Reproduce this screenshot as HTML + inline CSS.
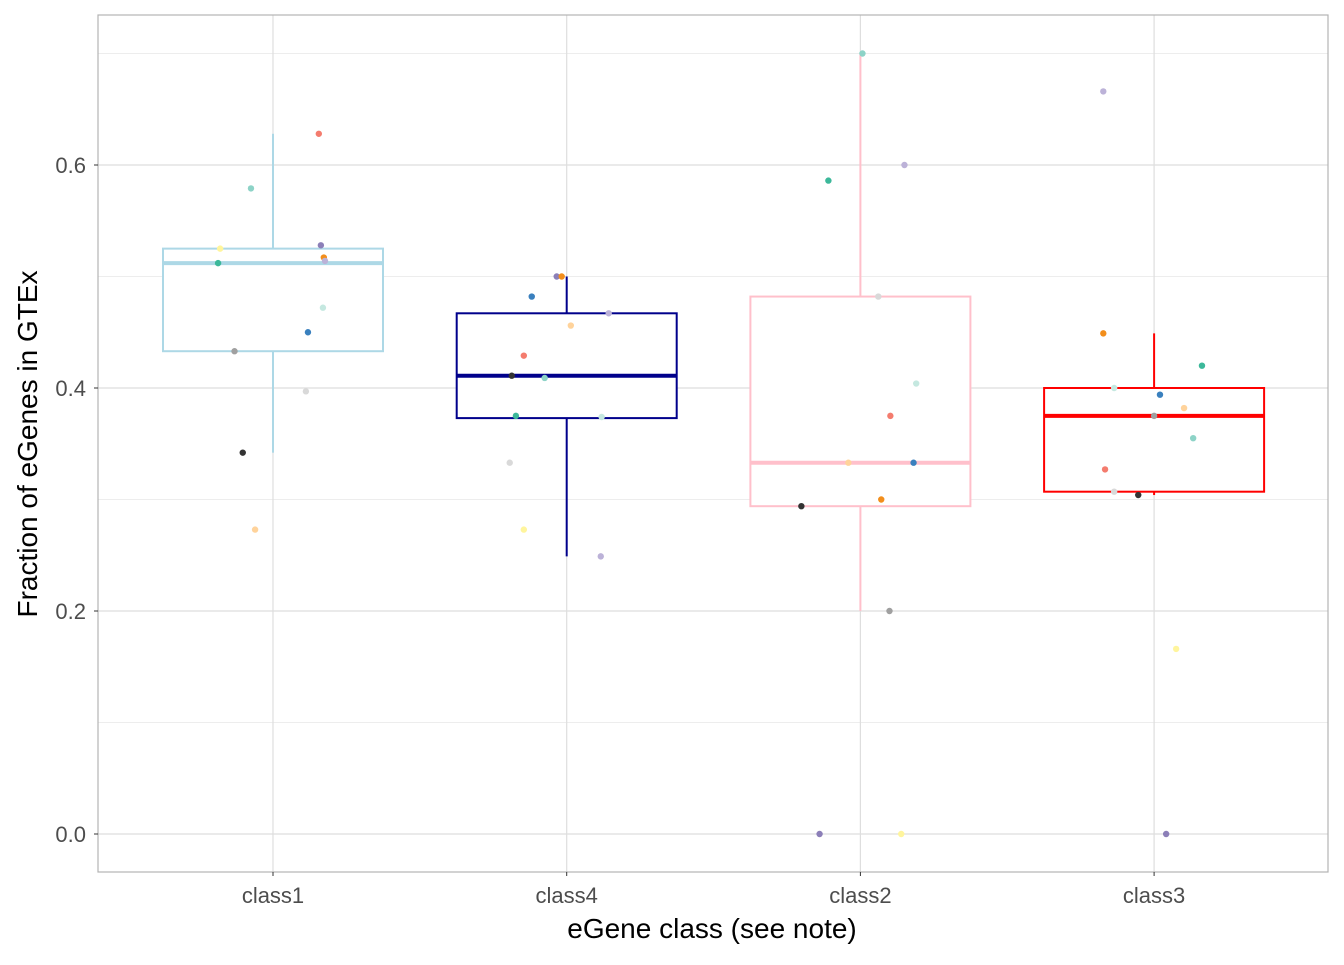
<!DOCTYPE html>
<html><head><meta charset="utf-8"><style>
body{margin:0;background:#fff;font-family:"Liberation Sans",sans-serif}
</style></head><body>
<svg id="chart" width="1344" height="960" xmlns="http://www.w3.org/2000/svg" font-family="Liberation Sans, sans-serif"></svg>
<script>
const categories=["class1","class4","class2","class3"];
const boxColors=["#ADD8E6","#00008B","#FFC0CB","#FF0000"];
const q1=[0.433,0.373,0.294,0.307];
const medians=[0.512,0.411,0.333,0.375];
const q3=[0.525,0.467,0.482,0.400];
const whiskLow=[0.342,0.249,0.200,0.304];
const whiskHigh=[0.628,0.500,0.700,0.449];
const yTicks=[0,0.2,0.4,0.6];
const yTickLabels=["0.0","0.2","0.4","0.6"];
const yMinor=[0.1,0.3,0.5,0.7];
const ptCat=[0,0,0,0,0,0,0,0,0,0,0,0,0, 1,1,1,1,1,1,1,1,1,1,1,1,1, 2,2,2,2,2,2,2,2,2,2,2,2,2, 3,3,3,3,3,3,3,3,3,3,3,3,3];
const ptJit=[0.156,-0.075,-0.18,0.163,-0.187,0.173,0.177,0.17,0.119,-0.131,0.112,-0.103,-0.061,
 -0.034,-0.017,-0.119,0.014,0.143,-0.146,-0.187,-0.075,-0.173,0.119,-0.194,-0.146,0.116,
 0.007,0.15,-0.109,0.061,0.19,0.102,-0.041,0.181,-0.201,0.071,0.099,-0.139,0.139,
 -0.173,-0.173,0.163,-0.136,0.02,0.102,0,0.133,-0.167,-0.136,-0.054,0.075,0.041];
const ptVal=[0.628,0.579,0.525,0.528,0.512,0.517,0.514,0.472,0.450,0.433,0.397,0.342,0.273,
 0.500,0.500,0.482,0.456,0.467,0.429,0.411,0.409,0.375,0.374,0.333,0.273,0.249,
 0.700,0.600,0.586,0.482,0.404,0.375,0.333,0.333,0.294,0.300,0.200,0.0,0.0,
 0.666,0.449,0.420,0.400,0.394,0.382,0.375,0.355,0.327,0.307,0.304,0.166,0.0];
const ptCol=["#F47C6E","#8DD3C7","#FFF59D","#8C7FB8","#3CB89A","#F28E1C","#BCB2D8","#C5E8E0","#3A80BE","#A0A0A0","#D9D9D9","#333333","#FFD39B",
 "#8C7FB8","#F28E1C","#3A80BE","#FFD39B","#BCB2D8","#F47C6E","#333333","#8DD3C7","#3CB89A","#C5E8E0","#D9D9D9","#FFF59D","#BCB2D8",
 "#8DD3C7","#BCB2D8","#3CB89A","#D9D9D9","#C5E8E0","#F47C6E","#FFD39B","#3A80BE","#333333","#F28E1C","#A0A0A0","#8C7FB8","#FFF59D",
 "#BCB2D8","#F28E1C","#3CB89A","#C5E8E0","#3A80BE","#FFD39B","#A0A0A0","#8DD3C7","#F47C6E","#D9D9D9","#333333","#FFF59D","#8C7FB8"];

const svg=document.getElementById('chart');
const NS="http://www.w3.org/2000/svg";
const L=98,R=1328,T=15,B=872;
const y=v=>834-v*1115;
const step=293.7, x0=273;
const x=i=>x0+i*step;
function el(t,a,p){const e=document.createElementNS(NS,t);for(const k in a)e.setAttribute(k,a[k]);(p||svg).appendChild(e);return e;}
let e;
e=el('rect',{x:L,y:T,width:R-L,height:B-T,fill:'#fff'});


yMinor.forEach(v=>{e=el('line',{x1:L,x2:R,y1:y(v),y2:y(v),stroke:'#ededed','stroke-width':1});

});
yTicks.forEach(v=>{e=el('line',{x1:L,x2:R,y1:y(v),y2:y(v),stroke:'#dedede','stroke-width':1.2});

});
categories.forEach((c,i)=>{e=el('line',{x1:x(i),x2:x(i),y1:T,y2:B,stroke:'#dedede','stroke-width':1.2});

});
const hw=110;
categories.forEach((c,i)=>{
 const g=el('g',{});
 
 
 const col=boxColors[i];
 el('line',{x1:x(i),x2:x(i),y1:y(q3[i]),y2:y(whiskHigh[i]),stroke:col,'stroke-width':2},g);
 el('line',{x1:x(i),x2:x(i),y1:y(q1[i]),y2:y(whiskLow[i]),stroke:col,'stroke-width':2},g);
 el('rect',{x:x(i)-hw,y:y(q3[i]),width:2*hw,height:y(q1[i])-y(q3[i]),fill:'#fff',stroke:col,'stroke-width':2},g);
 el('line',{x1:x(i)-hw,x2:x(i)+hw,y1:y(medians[i]),y2:y(medians[i]),stroke:col,'stroke-width':4},g);
});
ptVal.forEach((v,k)=>{e=el('circle',{cx:x(ptCat[k]+ptJit[k]),cy:y(v),r:3.2,fill:ptCol[k]});

});
e=el('rect',{x:L,y:T,width:R-L,height:B-T,fill:'none',stroke:'#b3b3b3','stroke-width':1.2});


yTicks.forEach((v,k)=>{
 el('line',{x1:L-4,x2:L,y1:y(v),y2:y(v),stroke:'#333','stroke-width':1});
 e=el('text',{x:L-12,y:y(v)+8,'text-anchor':'end','font-size':22,fill:'#4d4d4d'});e.textContent=yTickLabels[k];
 
 
});
categories.forEach((c,i)=>{
 el('line',{x1:x(i),x2:x(i),y1:B,y2:B+4,stroke:'#333','stroke-width':1});
 e=el('text',{x:x(i),y:903,'text-anchor':'middle','font-size':22,fill:'#4d4d4d'});e.textContent=c;
 
 
});
e=el('text',{x:712,y:938,'text-anchor':'middle','font-size':28,fill:'#000'});e.textContent='eGene class (see note)';


e=el('text',{x:37,y:444,'text-anchor':'middle','font-size':28,fill:'#000',transform:'rotate(-90 37 444)'});e.textContent='Fraction of eGenes in GTEx';


</script>
</body></html>
